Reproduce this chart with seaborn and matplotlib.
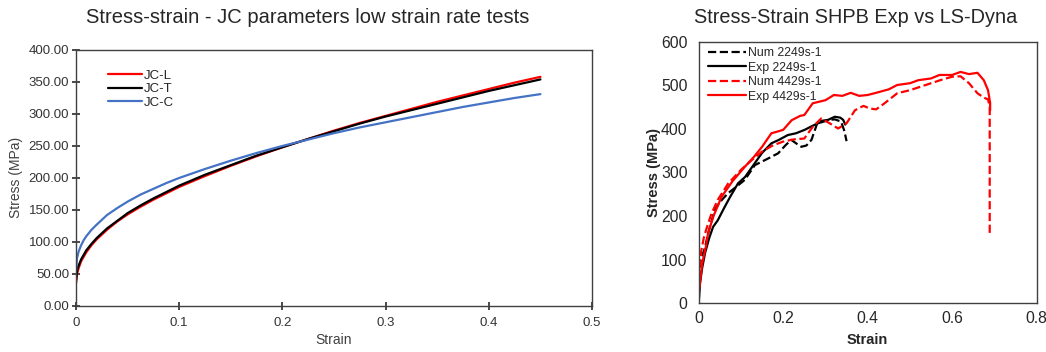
import matplotlib
matplotlib.use("Agg")
import matplotlib.pyplot as plt
import pandas as pd
import seaborn as sns

# --- left chart: JC curves at low strain rate ---
jc_strain = [0.0, 0.001, 0.0025, 0.005, 0.0075, 0.01, 0.015, 0.02, 0.03, 0.04, 0.05,
             0.0625, 0.075, 0.0875, 0.1, 0.125, 0.15, 0.175, 0.2, 0.225, 0.25,
             0.275, 0.3, 0.325, 0.35, 0.375, 0.4, 0.425, 0.45]
jc_l = [35, 50, 59, 70, 77, 84, 95, 104, 119, 132, 143,
        155, 166, 176, 186, 203, 219, 234, 248, 261, 274,
        286, 297, 308, 319, 329, 339, 349, 358]
jc_t = [40, 55, 63, 73, 80, 87, 97, 106, 121, 133, 145,
        157, 168, 178, 188, 205, 220, 235, 248, 261, 273,
        285, 296, 306, 316, 326, 336, 345, 354]
jc_c = [55, 75, 85, 95, 103, 109, 119, 127, 142, 153, 163,
        174, 183, 192, 200, 214, 227, 239, 250, 260, 270,
        279, 287, 295, 303, 311, 318, 325, 331]

# --- right chart: SHPB experiments vs LS-Dyna ---
num2249_x = [0.0, 0.002, 0.005, 0.014, 0.025, 0.038, 0.05, 0.069, 0.09, 0.109, 0.133,
             0.16, 0.188, 0.205, 0.219, 0.232, 0.243, 0.255, 0.267, 0.282, 0.3,
             0.322, 0.337, 0.345, 0.35]
num2249_y = [0, 80, 100, 125, 170, 214, 232, 252, 268, 283, 317,
             330, 344, 362, 375, 366, 359, 362, 375, 417, 420,
             422, 417, 395, 372]
exp2249_x = [0.0, 0.003, 0.008, 0.015, 0.025, 0.034, 0.045, 0.0615, 0.075, 0.093, 0.11,
             0.1325, 0.15, 0.172, 0.19, 0.211, 0.23, 0.251, 0.265, 0.282, 0.3,
             0.322, 0.335, 0.342, 0.347]
exp2249_y = [0, 45, 80, 115, 150, 175, 190, 221, 245, 275, 290,
             321, 345, 367, 375, 386, 390, 398, 405, 413, 418,
             428, 426, 421, 410]
num4429_x = [0.0, 0.002, 0.006, 0.012, 0.02, 0.03, 0.045, 0.07, 0.1, 0.125, 0.15,
             0.175, 0.2, 0.225, 0.25, 0.27, 0.29, 0.31, 0.33, 0.35, 0.37,
             0.39, 0.405, 0.42, 0.44, 0.47, 0.5, 0.525, 0.55, 0.575, 0.6,
             0.62, 0.64, 0.66, 0.675, 0.685, 0.689, 0.689, 0.689]
num4429_y = [0, 83, 120, 150, 176, 205, 237, 275, 306, 328, 348,
             362, 371, 376, 378, 405, 424, 413, 401, 413, 443,
             453, 447, 445, 459, 482, 489, 497, 505, 513, 520,
             521, 505, 482, 472, 468, 451, 300, 160]
exp4429_x = [0.0, 0.002, 0.008, 0.017, 0.022, 0.035, 0.054, 0.08, 0.109, 0.13, 0.15,
             0.172, 0.19, 0.2, 0.22, 0.24, 0.25, 0.27, 0.3, 0.32, 0.34,
             0.36, 0.38, 0.4, 0.42, 0.45, 0.47, 0.5, 0.52, 0.55, 0.57,
             0.6, 0.62, 0.64, 0.66, 0.675, 0.685, 0.69, 0.69]
exp4429_y = [30, 37, 90, 130, 160, 200, 244, 280, 313, 335, 359,
             390, 395, 398, 420, 430, 432, 459, 466, 478, 476,
             483, 476, 478, 483, 491, 501, 505, 512, 516, 524,
             524, 531, 526, 529, 512, 489, 460, 443]

sns.set_theme(style="white")
plt.rcParams["font.family"] = ["Liberation Sans", "DejaVu Sans"]

fig = plt.figure(figsize=(10.46, 3.52), dpi=100)
ax1 = fig.add_axes([0.0727, 0.131, 0.4933, 0.727])
ax2 = fig.add_axes([0.668, 0.139, 0.323, 0.742])

# left
left_df = pd.DataFrame({"strain": jc_strain, "JC-L": jc_l, "JC-T": jc_t, "JC-C": jc_c})
for name, color in [("JC-L", "#ff0000"), ("JC-T", "#000000"), ("JC-C", "#4472c4")]:
    sns.lineplot(data=left_df, x="strain", y=name, ax=ax1, color=color,
                 linewidth=1.6, label=name)
ax1.set_xlim(0, 0.5)
ax1.set_ylim(0, 400)
ax1.set_xticks([0, 0.1, 0.2, 0.3, 0.4, 0.5])
ax1.set_xticklabels(["0", "0.1", "0.2", "0.3", "0.4", "0.5"])
ax1.set_yticks(range(0, 401, 50))
ax1.set_yticklabels([f"{v:.2f}" for v in range(0, 401, 50)])
ax1.set_xlabel("Strain", fontsize=10, color="#404040", labelpad=3)
ax1.set_ylabel("Stress (MPa)", fontsize=10, color="#404040", labelpad=4)
ax1.tick_params(labelsize=9.5, colors="#333333", length=6, direction="inout",
                bottom=True, left=True, pad=2)
ax1.tick_params(axis="x", pad=5)
for s in ax1.spines.values():
    s.set_color("#404040")
    s.set_linewidth(1.0)
ax1.legend(loc="upper left", bbox_to_anchor=(0.052, 0.945), frameon=False,
           fontsize=9.5, handlelength=2.6, handletextpad=0.1, labelspacing=0.1,
           borderaxespad=0)
fig.text(0.294, 0.95, "Stress-strain - JC parameters low strain rate tests",
         ha="center", va="center", fontsize=14.5, color="#262626")

# right
series = [
    ("Num 2249s-1", num2249_x, num2249_y, "#000000", "--"),
    ("Exp 2249s-1", exp2249_x, exp2249_y, "#000000", "-"),
    ("Num 4429s-1", num4429_x, num4429_y, "#ff0000", "--"),
    ("Exp 4429s-1", exp4429_x, exp4429_y, "#ff0000", "-"),
]
for name, xs, ys, color, ls in series:
    df = pd.DataFrame({"strain": xs, "stress": ys})
    sns.lineplot(data=df, x="strain", y="stress", ax=ax2, color=color,
                 linestyle=ls, linewidth=1.6, label=name, sort=False, estimator=None)
ax2.set_xlim(0, 0.8)
ax2.set_ylim(0, 600)
ax2.set_xticks([0, 0.2, 0.4, 0.6, 0.8])
ax2.set_xticklabels(["0", "0.2", "0.4", "0.6", "0.8"])
ax2.set_yticks(range(0, 601, 100))
ax2.set_xlabel("Strain", fontsize=10.5, fontweight="bold", color="#262626", labelpad=5)
ax2.set_ylabel("Stress (MPa)", fontsize=10.5, fontweight="bold", color="#262626", labelpad=0)
ax2.tick_params(labelsize=11.3, colors="#262626", length=0, pad=8)
ax2.tick_params(axis="x", pad=6)
for s in ax2.spines.values():
    s.set_color("#404040")
    s.set_linewidth(1.0)
ax2.legend(loc="upper left", bbox_to_anchor=(0.012, 0.998), frameon=False,
           fontsize=8.8, handlelength=3.1, handletextpad=0.2, labelspacing=0.2,
           borderaxespad=0)
fig.text(0.818, 0.95, "Stress-Strain SHPB Exp vs LS-Dyna",
         ha="center", va="center", fontsize=14.3, color="#262626")

fig.savefig("out.png", dpi=100)
